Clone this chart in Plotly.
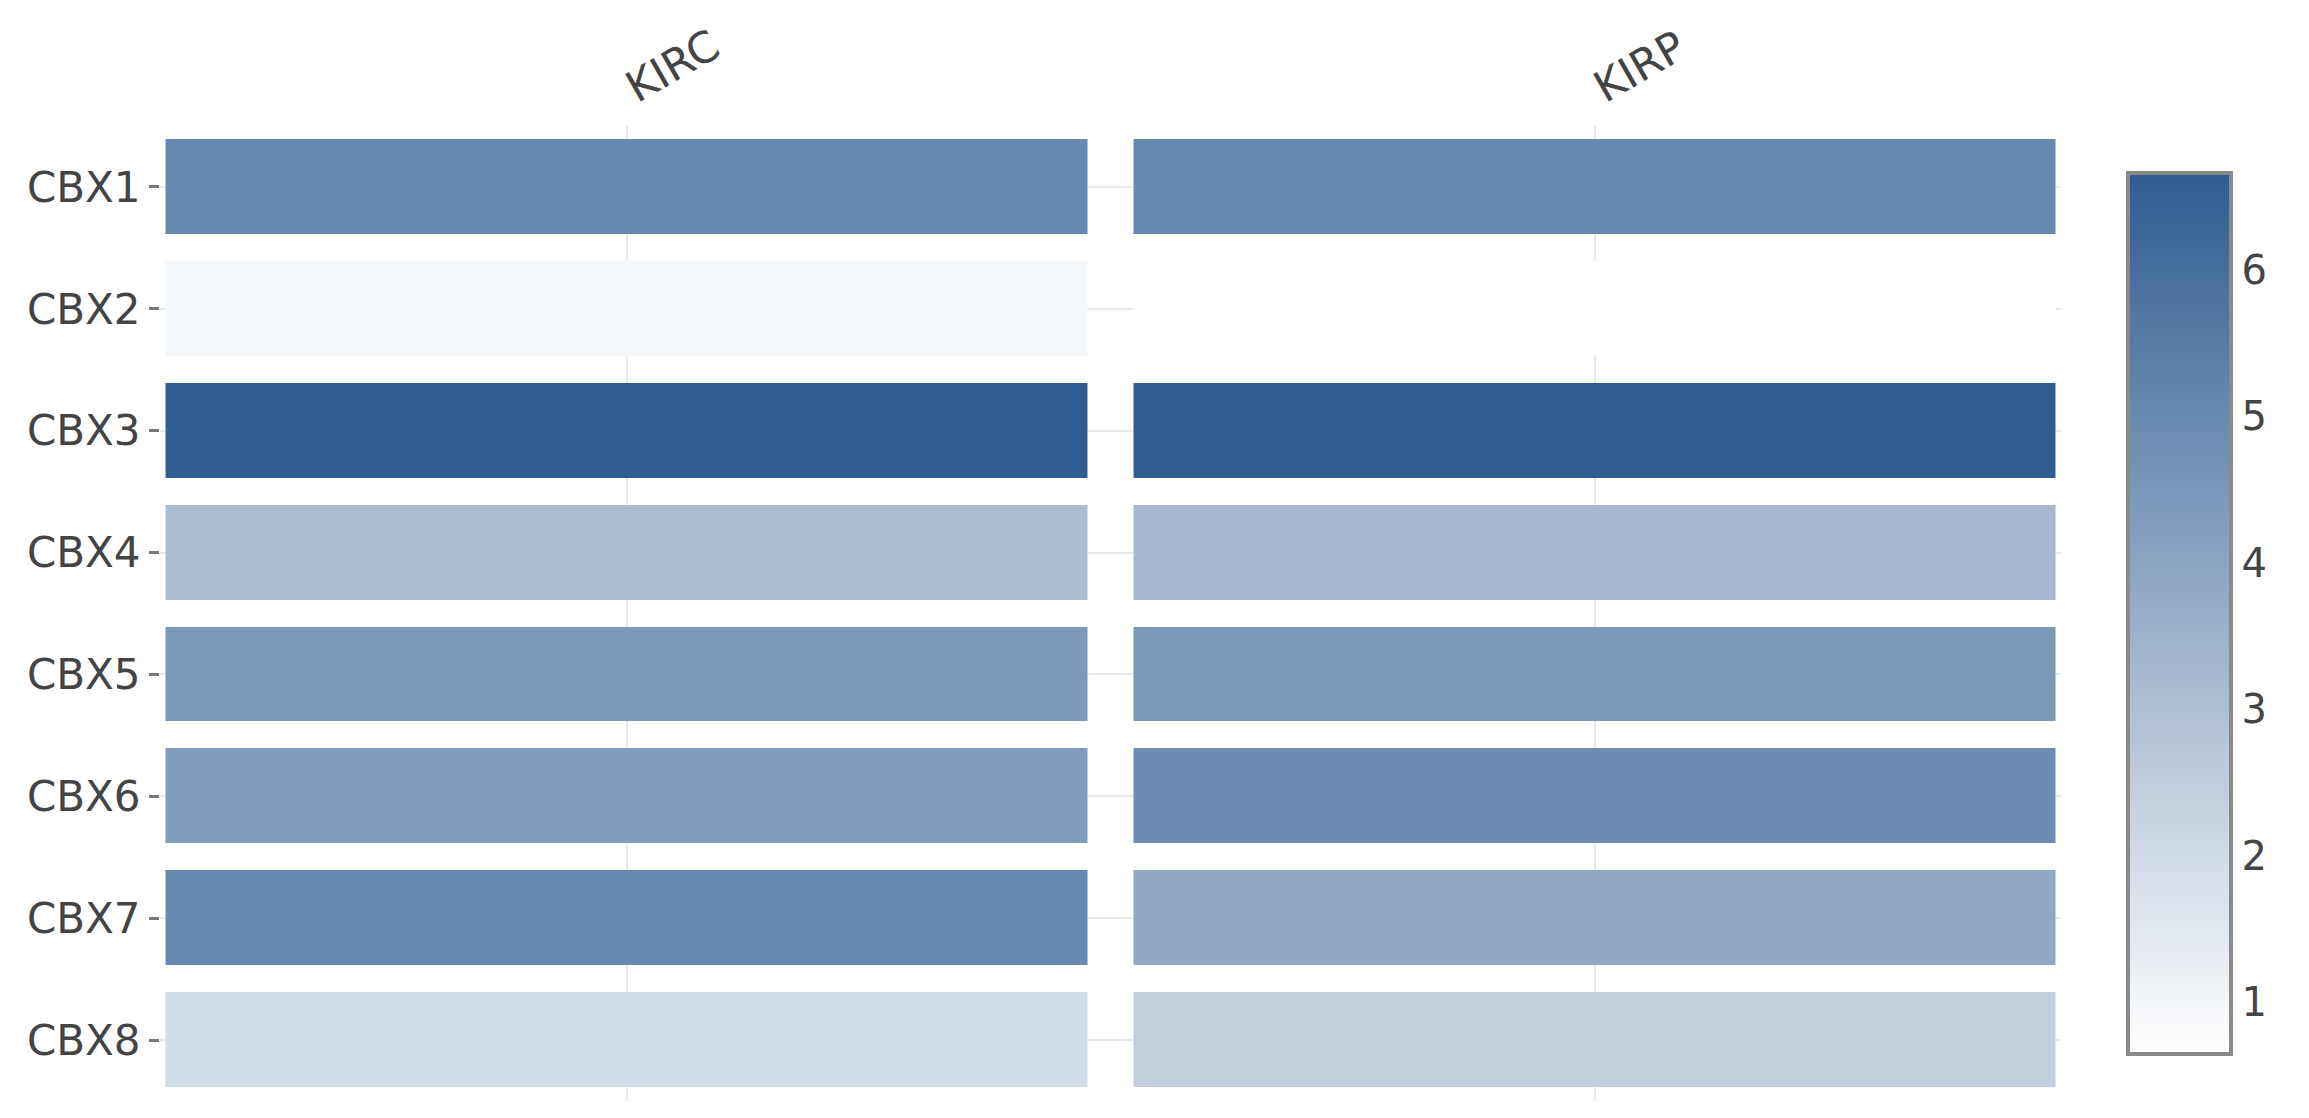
import plotly.graph_objects as go

genes = ["CBX1", "CBX2", "CBX3", "CBX4", "CBX5", "CBX6", "CBX7", "CBX8"]
cancers = ["KIRC", "KIRP"]
kirc = [5.04, 0.92, 6.62, 3.10, 4.40, 4.29, 5.04, 1.91]
kirp = [5.04, 0.645, 6.66, 3.25, 4.46, 4.90, 3.86, 2.41]
z_min, z_max = 0.645, 6.66
cbar_ticks = [1, 2, 3, 4, 5, 6]

z = [[a, b] for a, b in zip(kirc, kirp)]

W, H = 2309, 1118
OFF = 8  # default page body margin
plot_w, plot_h = 1901, 977
ml, mt = 160 - OFF, 124 - OFF
mr = W - ml - plot_w
mb = H - mt - plot_h
cell_w = 968.0
half = plot_w / cell_w / 2

fam = "DejaVu Sans, Verdana, sans-serif"

fig = go.Figure(go.Heatmap(
    z=z, x=cancers, y=genes,
    zmin=z_min, zmax=z_max,
    colorscale=[[0, "#ffffff"], [1, "#2f5c91"]],
    xgap=46, ygap=27,
    colorbar=dict(
        lenmode="pixels", len=881, thicknessmode="pixels", thickness=103,
        x=(2128 - 160) / plot_w, xanchor="left", xpad=0,
        y=0.5, yanchor="middle", ypad=0,
        outlinewidth=4, outlinecolor="#8a8a8a",
        tickvals=cbar_ticks, ticks="",
        tickfont=dict(family=fam, size=40, color="#444444"),
    ),
))

fig.update_layout(
    width=W, height=H,
    margin=dict(l=ml, r=mr, t=mt, b=mb, pad=0),
    paper_bgcolor="white", plot_bgcolor="white",
    font=dict(family=fam, size=42, color="#444444"),
    xaxis=dict(side="top", tickangle=-30, showgrid=True, gridcolor="#e8e8e8", gridwidth=2,
               zeroline=False, ticks="", range=[0.5 - half, 0.5 + half], showline=False,
               ticklabelstandoff=10, tickfont=dict(size=43)),
    yaxis=dict(autorange=False, range=[7.5, -0.5], ticks="outside", ticklen=10, tickwidth=2.5,
               tickcolor="#777777", showgrid=True, gridcolor="#e8e8e8", gridwidth=2,
               zeroline=False, showline=False),
)

fig.write_html("out.html")
